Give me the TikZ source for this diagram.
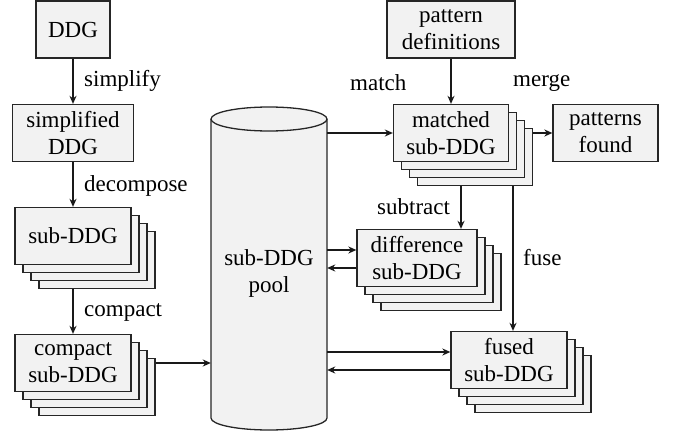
\documentclass[tikz,border=0pt]{standalone}
\usepackage{fontspec}
\setmainfont{Liberation Serif}
\usetikzlibrary{arrows.meta,shadows,calc}
\begin{document}
\begin{tikzpicture}[x=1pt,y=-1pt,
  every node/.style={font=\rmfamily\fontsize{23}{27}\selectfont},
  blk/.style={draw=black!85, fill=gray!10, line width=1.3pt, inner sep=0pt, align=center, minimum height=57pt},
  stack/.style={blk,
    copy shadow={shadow xshift=24pt, shadow yshift=-24pt},
    copy shadow={shadow xshift=16pt, shadow yshift=-16pt},
    copy shadow={shadow xshift=8pt, shadow yshift=-8pt}},
  conn/.style={draw=black!90, line width=1.3pt, -{Stealth[length=8pt,width=7pt,inset=2.5pt]}},
  lbl/.style={inner sep=0pt, anchor=west}
]
\useasboundingbox (0,0) rectangle (675,431);

% cylinder
\path[fill=gray!10, draw=black!85, line width=1.3pt] (211,119) -- (211,418)
  arc[start angle=180, end angle=360, x radius=58pt, y radius=12pt] -- (327,119)
  arc[start angle=0, end angle=180, x radius=58pt, y radius=12pt] -- cycle;
\draw[black!85, line width=1.3pt] (211,119) arc[start angle=180, end angle=360, x radius=58pt, y radius=12pt];
\node[minimum width=116pt, minimum height=298pt, inner sep=0pt, align=center] (pool) at (269,273) {sub-DDG\\pool};

% left column
\node[blk, minimum width=74pt] (ddg) at (73,29.5) {DDG};
\node[blk, minimum width=121pt] (simp) at (73,133) {simplified\\DDG};
\node[stack, minimum width=116pt] (sub) at (73,236) {sub-DDG};
\node[stack, minimum width=116pt] (comp) at (73,363) {compact\\sub-DDG};

% right part
\node[blk, minimum width=128pt] (patdef) at (451,29.5) {pattern\\definitions};
\node[stack, minimum width=115pt] (matched) at (451,133) {matched\\sub-DDG};
\node[blk, minimum width=105pt] (found) at (605.5,133) {patterns\\found};
\node[stack, minimum width=120pt] (diff) at (417,258) {difference\\sub-DDG};
\node[stack, minimum width=116pt] (fused) at (509,360) {fused\\sub-DDG};

% labels
\node[lbl] (lsimp) at (84,81) {simplify};
\node[lbl] (ldec) at (84,186) {decompose};
\node[lbl] (lcomp) at (84,312) {compact};
\node[lbl] (lmatch) at (350,83) {match};
\node[lbl] (lmerge) at (513,83) {merge};
\node[lbl] (lsub) at (377,207) {subtract};
\node[lbl] (lfuse) at (523,258) {fuse};

% connectors
\draw[conn] (ddg.south) -- (ddg.south |- simp.north);
\draw[conn] (simp.south) -- (simp.south |- sub.north);
\draw[conn] ([yshift=-24pt]sub.south) -- (comp.north);
\draw[conn] ([xshift=24pt]comp.east) -- (comp.east -| pool.west);
\draw[conn] (patdef.south) -- (patdef.south |- matched.north);
\draw[conn] (pool.east |- matched.west) -- (matched.west);
\draw[conn] ([xshift=24pt]matched.east) -- (found.west);
\coordinate (s0) at ([xshift=10pt,yshift=-24pt]matched.south);
\coordinate (f0) at ([xshift=62pt,yshift=-24pt]matched.south);
\draw[conn] (s0) -- (s0 |- diff.north);
\draw[conn] (f0) -- (f0 |- fused.north);
\coordinate (d1) at ([yshift=8pt]diff.west);
\coordinate (d2) at ([yshift=-10pt]diff.west);
\draw[conn] (d1 -| pool.east) -- (d1);
\draw[conn] (d2) -- (d2 -| pool.east);
\coordinate (u1) at ([yshift=8pt]fused.west);
\coordinate (u2) at ([yshift=-10pt]fused.west);
\draw[conn] (u1 -| pool.east) -- (u1);
\draw[conn] (u2) -- (u2 -| pool.east);
\end{tikzpicture}
\end{document}
